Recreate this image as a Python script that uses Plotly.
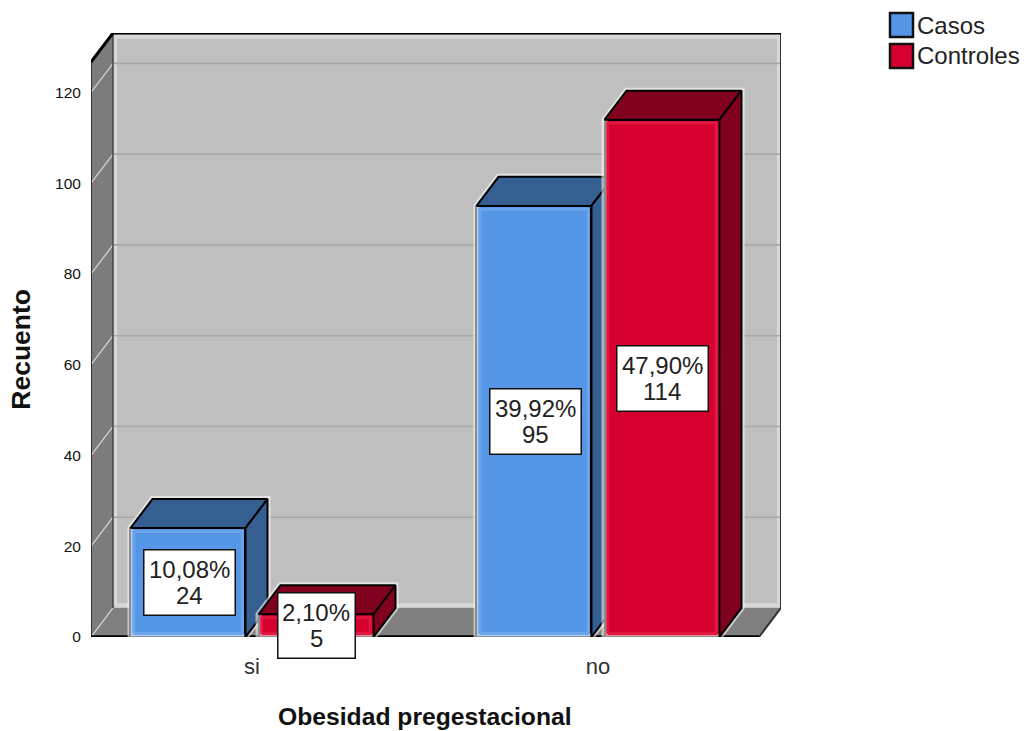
import plotly.graph_objects as go

# Data
categories = ["si", "no"]
casos = [24, 95]
controles = [5, 114]
casos_pct = ["10,08%", "39,92%"]
controles_pct = ["2,10%", "47,90%"]
y_ticks = [0, 20, 40, 60, 80, 100, 120]

# Scene geometry, in axis units
positions = [0, 1]
X_RANGE = [-0.4653, 1.5289]
Y_RANGE = [0, 133.1]
BAR_W = 0.3324
SHIFT = 0.185
DX = 0.0636      # depth of the 3D projection along x
DY = 6.4         # depth of the 3D projection along y
BACK_TOP = Y_RANGE[1]

# Page layout, in pixels
PAGE_W, PAGE_H = 1028, 731
M_L, M_R, M_T, M_B = 91, 247, 33, 93.5

WALL = "#bfbfbf"
SIDE_WALL = "#7c7c7c"
BLUE, BLUE_DARK, BLUE_GLOW = "#5596e6", "#365f91", "#6aa5ec"
RED, RED_DARK, RED_GLOW = "#d5002f", "#80001e", "#e3163f"
FONT = "Liberation Sans"


def poly(xs, ys, fill=None, line=None, width=1, opacity=1.0, xa="x", ya="y"):
    """Closed polygon or polyline in axis units."""
    return go.Scatter(
        x=xs, y=ys, mode="lines", xaxis=xa, yaxis=ya,
        fill="toself" if fill else "none", fillcolor=fill,
        line=dict(color=line or "rgba(0,0,0,0)", width=width),
        opacity=opacity, hoverinfo="skip", showlegend=False, cliponaxis=False,
    )


fig = go.Figure()
x0, x1 = X_RANGE
xb0, xb1 = x0 + DX, x1
xf1 = x1 - DX

# Back wall, with a soft pale rim just inside its edge
fig.add_trace(poly([xb0, xb1, xb1, xb0, xb0], [DY, DY, BACK_TOP, BACK_TOP, DY], fill=WALL))
fig.add_trace(poly([xb0 + .006, xb1 - .006, xb1 - .006, xb0 + .006, xb0 + .006],
                   [DY + .6, DY + .6, BACK_TOP - .8, BACK_TOP - .8, DY + .6],
                   line="#f2f2f2", width=4, opacity=0.5))

# Floor and left wall
fig.add_trace(poly([x0, xf1, xb1, xb0, x0], [0, 0, DY, DY, 0], fill="#808080"))
wall_top = BACK_TOP - DY
fig.add_trace(poly([x0, xb0, xb0, x0, x0], [0, DY, BACK_TOP, wall_top, 0], fill=SIDE_WALL))

# Gridlines across the back wall, folding forward along the left wall
for t in y_ticks[1:]:
    fig.add_trace(poly([xb0, xb1], [t + DY, t + DY], line="#a8a8a8", width=1.6))
for t in y_ticks:
    fig.add_trace(poly([x0, xb0], [t, t + DY], line="#d8d8d8", width=1.2))

# Frame edges
fig.add_trace(poly([xb1, xb1, xf1], [BACK_TOP, DY, 0], line="#333333", width=2))
fig.add_trace(poly([xb0, xb0], [DY, BACK_TOP], line="#444444", width=1.5))
fig.add_trace(poly([x0, x0], [0, wall_top], line="#333333", width=2))
fig.add_trace(poly([x0, xb0, xb1], [wall_top, BACK_TOP, BACK_TOP], line="#000000", width=3))
fig.add_trace(poly([x0, xf1], [0, 0], line="#000000", width=3.5))


def add_series(name, values, shift, front, dark, glow, xa, ya):
    xs = [p + shift for p in positions]
    # Halos behind each block
    for cx, v in zip(xs, values):
        l, r = cx - BAR_W / 2, cx + BAR_W / 2
        fig.add_trace(poly([l, l, l + DX, r + DX, r + DX, r, l],
                           [0, v, v + DY, v + DY, DY, 0, 0],
                           line="#ffffff", width=6, opacity=0.55, xa=xa, ya=ya))
    # Front faces
    fig.add_trace(go.Bar(
        x=xs, y=values, name=name, width=BAR_W, xaxis=xa, yaxis=ya,
        marker=dict(color=front, line=dict(color="#000000", width=2)),
        hoverinfo="skip", showlegend=False, cliponaxis=False,
    ))
    for cx, v in zip(xs, values):
        l, r = cx - BAR_W / 2, cx + BAR_W / 2
        # Inner glow on the front face
        ix, iy = 0.0095, 0.75
        fig.add_trace(poly([l + ix, r - ix, r - ix, l + ix, l + ix],
                           [iy, iy, v - iy, v - iy, iy], line=glow, width=3, xa=xa, ya=ya))
        # Top and side faces
        fig.add_trace(poly([l, l + DX, r + DX, r, l], [v, v + DY, v + DY, v, v],
                           fill=dark, line="#000000", width=2, xa=xa, ya=ya))
        fig.add_trace(poly([r, r + DX, r + DX, r, r], [0, DY, v + DY, v, 0],
                           fill=dark, line="#000000", width=2, xa=xa, ya=ya))


# Each series gets its own overlaid subplot, so it stacks above the walls and the one before it
add_series("Casos", casos, -SHIFT, BLUE, BLUE_DARK, BLUE_GLOW, "x2", "y2")
add_series("Controles", controles, SHIFT, RED, RED_DARK, RED_GLOW, "x3", "y3")


def value_label(cx, value, pct, box_w):
    """White box at the middle of a bar holding its percentage and count."""
    common = dict(x=cx, y=value / 2, xref="x3", yref="y3", showarrow=False,
                  xanchor="center", yanchor="middle")
    return [
        dict(text=" ", width=box_w, height=64, bgcolor="#ffffff", bordercolor="#111111",
             borderwidth=1.5, borderpad=0, **common),
        dict(text=pct, yshift=13, font=dict(family=FONT, size=24, color="#222222"), **common),
        dict(text=str(value), yshift=-13, font=dict(family=FONT, size=24, color="#222222"), **common),
    ]


annotations = []
for p, v, pc in zip(positions, casos, casos_pct):
    annotations += value_label(p - SHIFT + 0.003, v, pc, 90)
for p, v, pc in zip(positions, controles, controles_pct):
    annotations += value_label(p + SHIFT, v, pc, 76 if v < 10 else 90)


def page_x(px):
    return (px - M_L) / (PAGE_W - M_L - M_R)


def page_y(py):
    return 1 - (py - M_T) / (PAGE_H - M_T - M_B)


annotations += [
    dict(text="<b>Obesidad pregestacional</b>", xref="paper", yref="paper",
         x=page_x(425), y=page_y(717), showarrow=False, xanchor="center", yanchor="middle",
         font=dict(family=FONT, size=24.7, color="#111111")),
    dict(text="<b>Recuento</b>", xref="paper", yref="paper",
         x=page_x(21), y=page_y(350), showarrow=False, textangle=-90, xanchor="center", yanchor="middle",
         font=dict(family=FONT, size=26.5, color="#111111")),
]

# Legend swatches and their names
shapes = []
for name, col, cy in (("Casos", BLUE, 25), ("Controles", RED, 56)):
    shapes.append(dict(type="rect", xref="paper", yref="paper", layer="above",
                       x0=page_x(890), x1=page_x(913), y0=page_y(cy + 12), y1=page_y(cy - 12),
                       fillcolor=col, line=dict(color="#111111", width=2.5)))
    annotations.append(dict(text=name, xref="paper", yref="paper", x=page_x(915), y=page_y(cy),
                            showarrow=False, xanchor="left", yanchor="middle",
                            font=dict(family=FONT, size=24, color="#222222")))

fig.update_layout(
    width=PAGE_W, height=PAGE_H,
    margin=dict(l=M_L, r=M_R, t=M_T, b=M_B, pad=0),
    paper_bgcolor="#ffffff", plot_bgcolor="#ffffff",
    barmode="overlay", bargap=0, showlegend=False,
    annotations=annotations, shapes=shapes,
    xaxis=dict(range=X_RANGE, tickvals=positions, ticktext=categories, showgrid=False, zeroline=False,
               showline=False, ticks="outside", ticklen=10, tickcolor="rgba(0,0,0,0)",
               tickfont=dict(family=FONT, size=22, color="#333333")),
    yaxis=dict(range=Y_RANGE, tickvals=y_ticks, showgrid=False, zeroline=False, showline=False,
               ticks="outside", ticklen=6, tickcolor="rgba(0,0,0,0)",
               tickfont=dict(family=FONT, size=15.5, color="#111111")),
    xaxis2=dict(range=X_RANGE, overlaying="x", visible=False),
    yaxis2=dict(range=Y_RANGE, overlaying="y", visible=False),
    xaxis3=dict(range=X_RANGE, overlaying="x", visible=False),
    yaxis3=dict(range=Y_RANGE, overlaying="y", visible=False),
)

fig.write_html("out.html")
